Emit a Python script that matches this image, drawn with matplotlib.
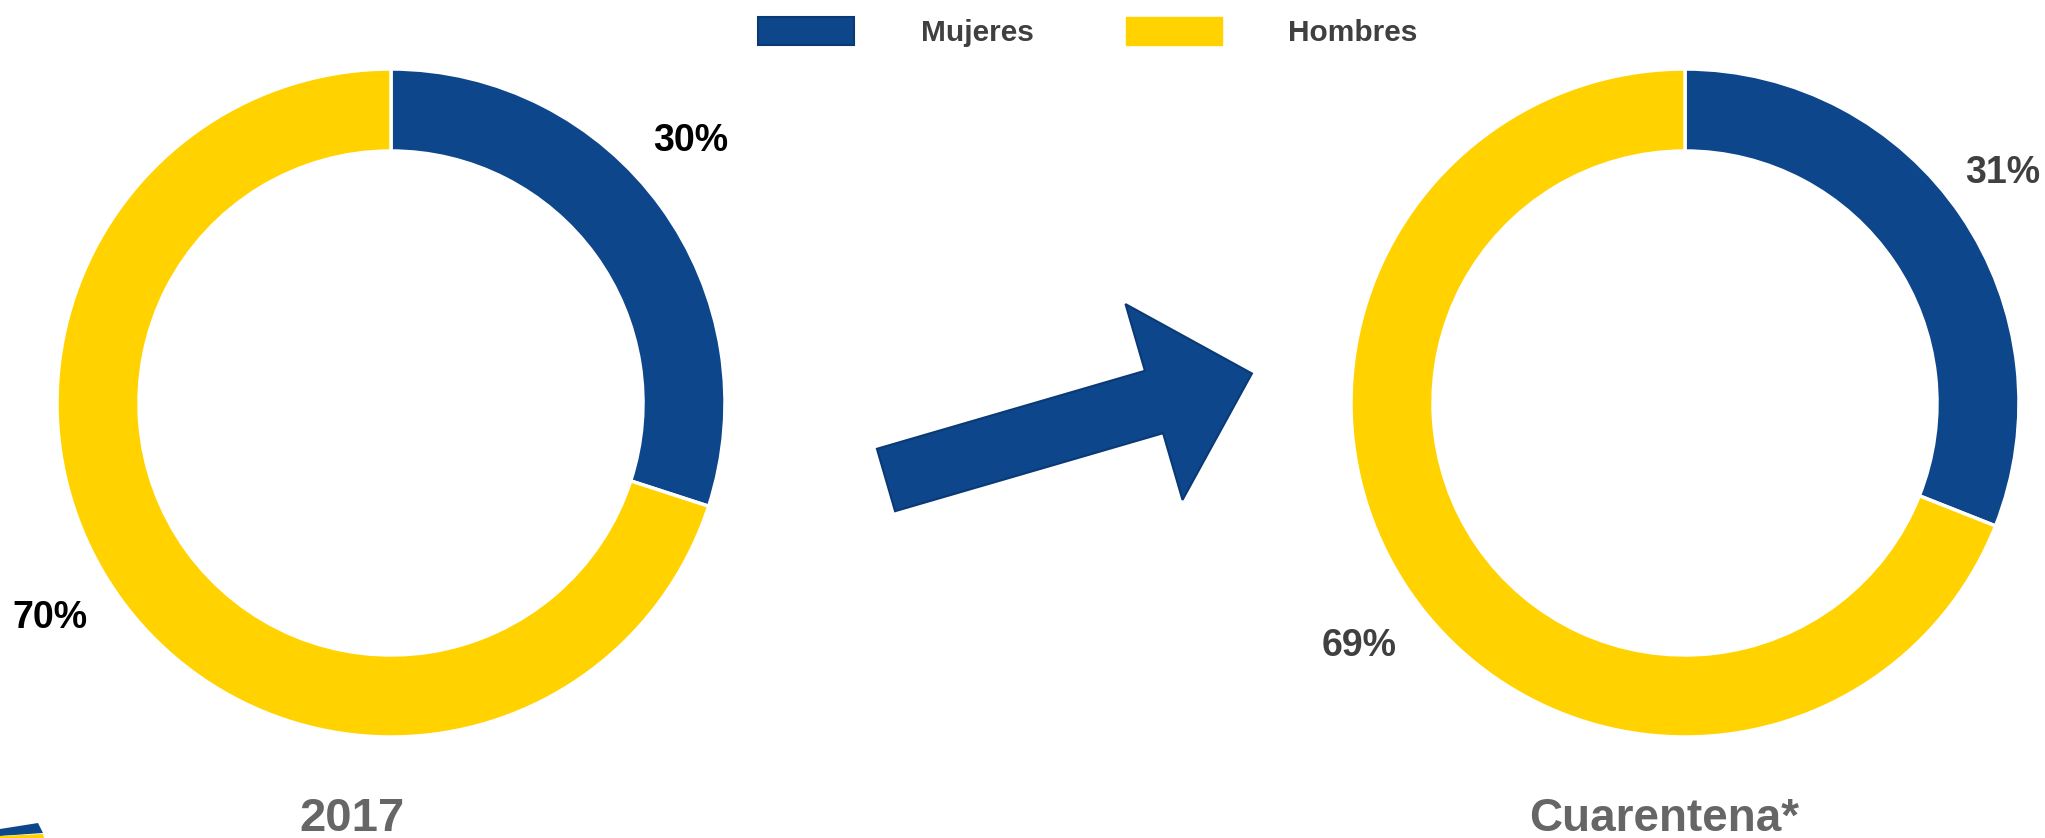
import matplotlib.pyplot as plt
from matplotlib.patches import Patch, FancyArrow, Polygon

plt.rcParams['font.family'] = ['Liberation Sans', 'DejaVu Sans']

# datos
categorias = ['Mujeres', 'Hombres']
periodos = ['2017', 'Cuarentena*']
valores_2017 = [30, 70]
valores_cuarentena = [31, 69]
etiquetas_2017 = ['30%', '70%']
etiquetas_cuarentena = ['31%', '69%']
colores = ['#0E468B', '#FFD200']

W, H = 2045, 838
fig = plt.figure(figsize=(W / 100, H / 100), dpi=100)
ax = fig.add_axes([0, 0, 1, 1])

def donut(vals, cx, cy):
    ax.pie(vals, colors=colores, startangle=90, counterclock=False,
           center=(cx, cy), radius=334,
           wedgeprops=dict(width=82, edgecolor='white', linewidth=2.5))

donut(valores_2017, 391, H - 403)
donut(valores_cuarentena, 1685, H - 403)

# etiquetas de porcentaje (posiciones como en el original)
pct_kw = dict(ha='center', va='center', fontsize=27, fontweight='bold')
ax.text(691, H - 141, etiquetas_2017[0], color='black', **pct_kw)
ax.text(50, H - 618, etiquetas_2017[1], color='black', **pct_kw)
ax.text(2003, H - 173, etiquetas_cuarentena[0], color='#404040', **pct_kw)
ax.text(1359, H - 646, etiquetas_cuarentena[1], color='#404040', **pct_kw)

ax.text(352, H - 819, periodos[0], ha='center', va='center', fontsize=34,
        fontweight='bold', color='#666666')
ax.text(1664, H - 819, periodos[1], ha='center', va='center', fontsize=33,
        fontweight='bold', color='#666666')

# flecha entre los dos anillos
ax.add_patch(FancyArrow(886, H - 480, 268, 78, width=65, head_width=204,
                        head_length=102, length_includes_head=False,
                        facecolor='#0E468B', edgecolor='#0A3A75', linewidth=1.5))

# resto del logo cortado abajo a la izquierda
ax.add_patch(Polygon([(0, H - 829), (38, H - 823), (43, H - 833), (0, H - 836)],
                     closed=True, facecolor='#0E468B', edgecolor='none'))
ax.add_patch(Polygon([(0, H - 838), (0, H - 836), (43, H - 834), (44, H - 838)],
                     closed=True, facecolor='#FFD200', edgecolor='none'))

ax.set_xlim(0, W)
ax.set_ylim(0, H)
ax.set_aspect('equal')
ax.axis('off')

handles = [Patch(facecolor=colores[0], edgecolor='#0A3A75', linewidth=1.5),
           Patch(facecolor=colores[1], edgecolor=colores[1])]
leg = fig.legend(handles, categorias, loc='center', bbox_to_anchor=(1088 / W, 1 - 32 / H),
                 ncol=2, frameon=False, fontsize=21.5, handlelength=3.2, handleheight=1.07,
                 handletextpad=2.24, columnspacing=3.1)
for t in leg.get_texts():
    t.set_fontweight('bold')
    t.set_color('#404040')

fig.savefig('out.png', dpi=100, facecolor='white')
